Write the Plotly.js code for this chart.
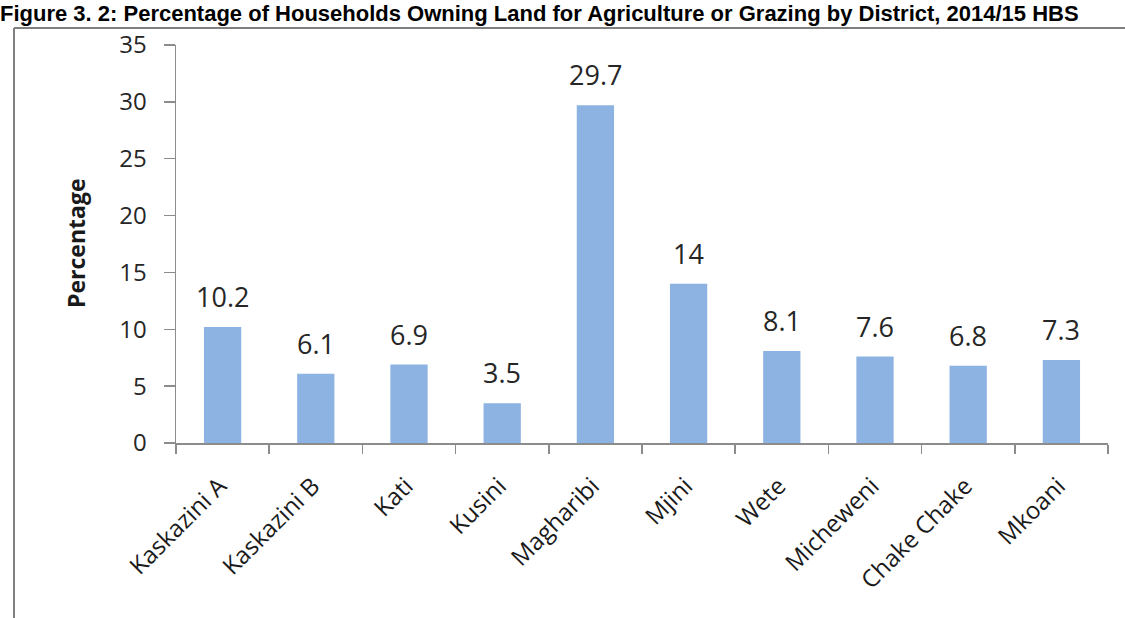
<!DOCTYPE html>
<html>
<head>
<meta charset="utf-8">
<script src="https://cdn.plot.ly/plotly-3.0.1.min.js"></script>
<style>html,body{margin:0;padding:0;background:#fff;overflow:hidden}#chart{width:1125px;height:618px}</style>
</head>
<body>
<div id="chart"></div>
<script>
const districts = ["Kaskazini A","Kaskazini B","Kati","Kusini","Magharibi","Mjini","Wete","Micheweni","Chake Chake","Mkoani"];
const percentages = [10.2, 6.1, 6.9, 3.5, 29.7, 14, 8.1, 7.6, 6.8, 7.3];
const yTicks = [0, 5, 10, 15, 20, 25, 30, 35];
const chartTitle = "Figure 3. 2: Percentage of Households Owning Land for Agriculture or Grazing by District, 2014/15 HBS";
const yTitle = "Percentage";

const W = 1125, H = 618;
const M = {l: 176, r: 17, t: 45, b: 175};
const pw = W - M.l - M.r, ph = H - M.t - M.b;
const FONT = "Open Sans, Lato, sans-serif";
// pixel -> paper helpers
const px = p => (p - M.l) / pw;
const py = p => (H - M.b - p) / ph;

const labelAnn = districts.map((d, i) => ({
  x: d, y: percentages[i], xref: 'x', yref: 'y',
  text: String(percentages[i]), showarrow: false,
  yanchor: 'bottom', yshift: 10,
  font: {family: FONT, size: 27, color: '#262626'}
}));

const FRAME_Y = 28;

const layout = {
  width: W, height: H,
  margin: M,
  paper_bgcolor: '#ffffff', plot_bgcolor: '#ffffff',
  showlegend: false,
  bargap: 0.6,
  xaxis: {
    type: 'category', showline: true, linecolor: '#8c8c8c', linewidth: 1.5,
    ticks: 'outside', tickson: 'boundaries', ticklen: 9, tickcolor: '#8c8c8c', tickwidth: 1.5,
    tickangle: -45, ticklabelstandoff: 18, ticklabelshift: -3,
    tickfont: {family: FONT, size: 24, color: '#1a1a1a'},
    showgrid: false, zeroline: false, automargin: false
  },
  yaxis: {
    range: [0, 35], tickvals: yTicks, showline: true, linecolor: '#8c8c8c', linewidth: 1.5,
    ticks: 'outside', ticklen: 11, tickcolor: '#8c8c8c', tickwidth: 1.5,
    ticklabelstandoff: 12,
    tickfont: {family: FONT, size: 24, color: '#262626'},
    showgrid: false, zeroline: false, automargin: false
  },
  annotations: [
    {xref: 'paper', yref: 'paper', x: px(-2), y: py(-1), xanchor: 'left', yanchor: 'top',
     text: '<b>' + chartTitle + '</b>', showarrow: false,
     font: {family: 'Liberation Sans Narrow, Arial Narrow, Liberation Sans, sans-serif', size: 22, color: '#000000'}},
    {xref: 'paper', yref: 'paper', x: px(76), y: 0.5, xanchor: 'center', yanchor: 'middle',
     text: '<b>' + yTitle + '</b>', textangle: -90, showarrow: false,
     font: {family: FONT, size: 23, color: '#1a1a1a'}}
  ].concat(labelAnn),
  shapes: [
    {type: 'line', xref: 'paper', yref: 'paper', x0: px(14), x1: px(W + 5),
     y0: py(FRAME_Y), y1: py(FRAME_Y), line: {color: '#7f7f7f', width: 2}},
    {type: 'line', xref: 'paper', yref: 'paper', x0: px(14), x1: px(14),
     y0: py(FRAME_Y), y1: py(H + 5), line: {color: '#7f7f7f', width: 2}}
  ]
};

Plotly.newPlot('chart', [{
  type: 'bar', x: districts, y: percentages,
  marker: {color: '#8db3e2'}, hoverinfo: 'x+y'
}], layout, {displayModeBar: false, staticPlot: true});
</script>
</body>
</html>
